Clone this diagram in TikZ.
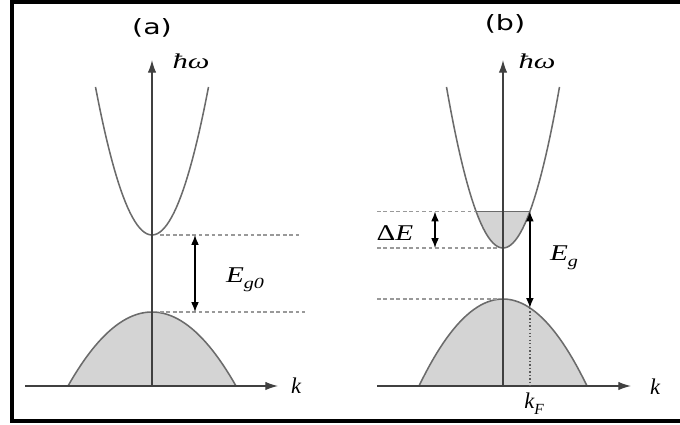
\documentclass[tikz,border=0pt]{standalone}
\usepackage{amsmath,amssymb}
\usepackage{graphicx}
\usepackage{fontspec}
\newfontfamily\panelfont{DejaVu Sans}
\newfontfamily\symfont{Liberation Serif}
\usetikzlibrary{calc,arrows.meta}
\definecolor{bandline}{gray}{0.42}
\definecolor{bandfill}{gray}{0.83}
\definecolor{levelgray}{gray}{0.6}
\newcommand{\lowsub}[1]{\raisebox{-4.5pt}{\fontsize{11}{12}\selectfont #1}}

\begin{document}
\begin{tikzpicture}[>={Latex[length=7pt,width=5.5pt]},x=0.025cm,y=-0.025cm,
  axis/.style={-{Latex[length=9pt,width=6pt]},draw=black!75,line width=0.9pt},
  band/.style={draw=bandline,line width=1.1pt},
  level/.style={draw=levelgray,dash pattern=on 2.6pt off 2pt,line width=0.9pt},
  gaparrow/.style={<->,line width=0.9pt},
  mlabel/.style={inner sep=0pt,font=\symfont\itshape\fontsize{16}{18}\selectfont},
  hwlabel/.style={inner sep=0pt,font=\symfont\itshape\fontsize{15}{17}\selectfont},
  plabel/.style={inner sep=0pt,font=\panelfont\fontsize{15}{17}\selectfont}]
  \useasboundingbox (0,0) rectangle (680,425);
  \draw[line width=2.6pt] (680,2) -- (12,2) -- (12,421) -- (680,421);

  % (a) undoped: gap between band edges at k=0
  \coordinate (aO) at (152,386);
  \coordinate (aCB) at (152,235);
  \coordinate (aVB) at (152,312);
  \fill[bandfill] plot[domain=-84:84,samples=50] ({152+\x},{312+74*(\x/84)^2}) -- cycle;
  \draw[band] plot[domain=-84:84,samples=50] ({152+\x},{312+74*(\x/84)^2});
  \draw[band] plot[domain=-56.5:56.5,samples=50] ({152+\x},{235-148*(\x/56.5)^2});
  \coordinate (aKl) at (25,386);
  \coordinate (aKr) at (278,386);
  \coordinate (aTop) at (152,60);
  \draw[axis] (aKl) -- (aKr);
  \draw[axis] (aO) -- (aTop);
  \node[mlabel] (ak) at (296,386) {k};
  \node[hwlabel] (ahw) at (191,61) {\scalebox{1.45}[1]{ħω}};
  \node[plabel] (aname) at (152,28) {\scalebox{1.35}[1]{(a)}};
  \coordinate (aCBr) at (302,235);
  \coordinate (aVBr) at (305,312);
  \draw[level] ($(aCB)+(8,0)$) -- (aCBr);
  \draw[level] ($(aVB)+(8,0)$) -- (aVBr);
  \coordinate (aGu) at (195,235);
  \coordinate (aGd) at (195,312);
  \draw[gaparrow] (aGu) -- (aGd);
  \node[mlabel] (aEg) at (245,280) {\scalebox{1.3}[1]{E\lowsub{g0}}};

  % (b) doped: filled states up to k_F
  \pgfmathsetmacro{\tf}{56.5*sqrt(36.5/161)}
  \pgfmathsetmacro{\vf}{299+87*(\tf/84)^2}
  \coordinate (bO) at (503,386);
  \coordinate (bCB) at (503,248);
  \coordinate (bVB) at (503,299);
  \coordinate (bFl) at ({503-\tf},211.5);
  \coordinate (bFr) at ({503+\tf},211.5);
  \coordinate (bFv) at ({503+\tf},\vf);
  \coordinate (bFk) at ({503+\tf},386);
  \fill[bandfill] plot[domain=-84:84,samples=50] ({503+\x},{299+87*(\x/84)^2}) -- cycle;
  \draw[band] plot[domain=-84:84,samples=50] ({503+\x},{299+87*(\x/84)^2});
  \fill[bandfill] plot[domain=-\tf:\tf,samples=30] ({503+\x},{248-161*(\x/56.5)^2}) -- cycle;
  \draw[band] (bFl) -- (bFr);
  \draw[band] plot[domain=-56.5:56.5,samples=50] ({503+\x},{248-161*(\x/56.5)^2});
  \coordinate (bKl) at (377,386);
  \coordinate (bKr) at (631,386);
  \coordinate (bTop) at (503,60);
  \draw[axis] (bKl) -- (bKr);
  \draw[axis] (bO) -- (bTop);
  \node[mlabel] (bk) at (655,387) {k};
  \node[hwlabel] (bhw) at (537,61) {\scalebox{1.45}[1]{ħω}};
  \node[plabel] (bname) at (505,24) {\scalebox{1.35}[1]{(b)}};
  \coordinate (bL1) at (377,211.5);
  \coordinate (bL2) at (377,248);
  \coordinate (bL3) at (377,299);
  \draw[level] (bL1) -- (bFl);
  \draw[level] (bL2) -- ($(bCB)+(-6,0)$);
  \draw[level] (bL3) -- ($(bVB)+(-6,0)$);
  \coordinate (bDu) at (435,211.5);
  \coordinate (bDd) at (435,248);
  \draw[gaparrow] (bDu) -- (bDd);
  \node[mlabel] (bdE) at (395,233) {\scalebox{1.3}[1]{{\upshape Δ}E}};
  \draw[gaparrow] (bFr) -- (bFv);
  \node[mlabel] (bEg) at (564,258) {\scalebox{1.3}[1]{E\lowsub{g}}};
  \draw[black!65,line width=0.9pt,dash pattern=on 1pt off 1.5pt] (bFv) -- (bFk);
  \node[mlabel] (bkF) at (534,404) {k\lowsub{F}};
\end{tikzpicture}
\end{document}
